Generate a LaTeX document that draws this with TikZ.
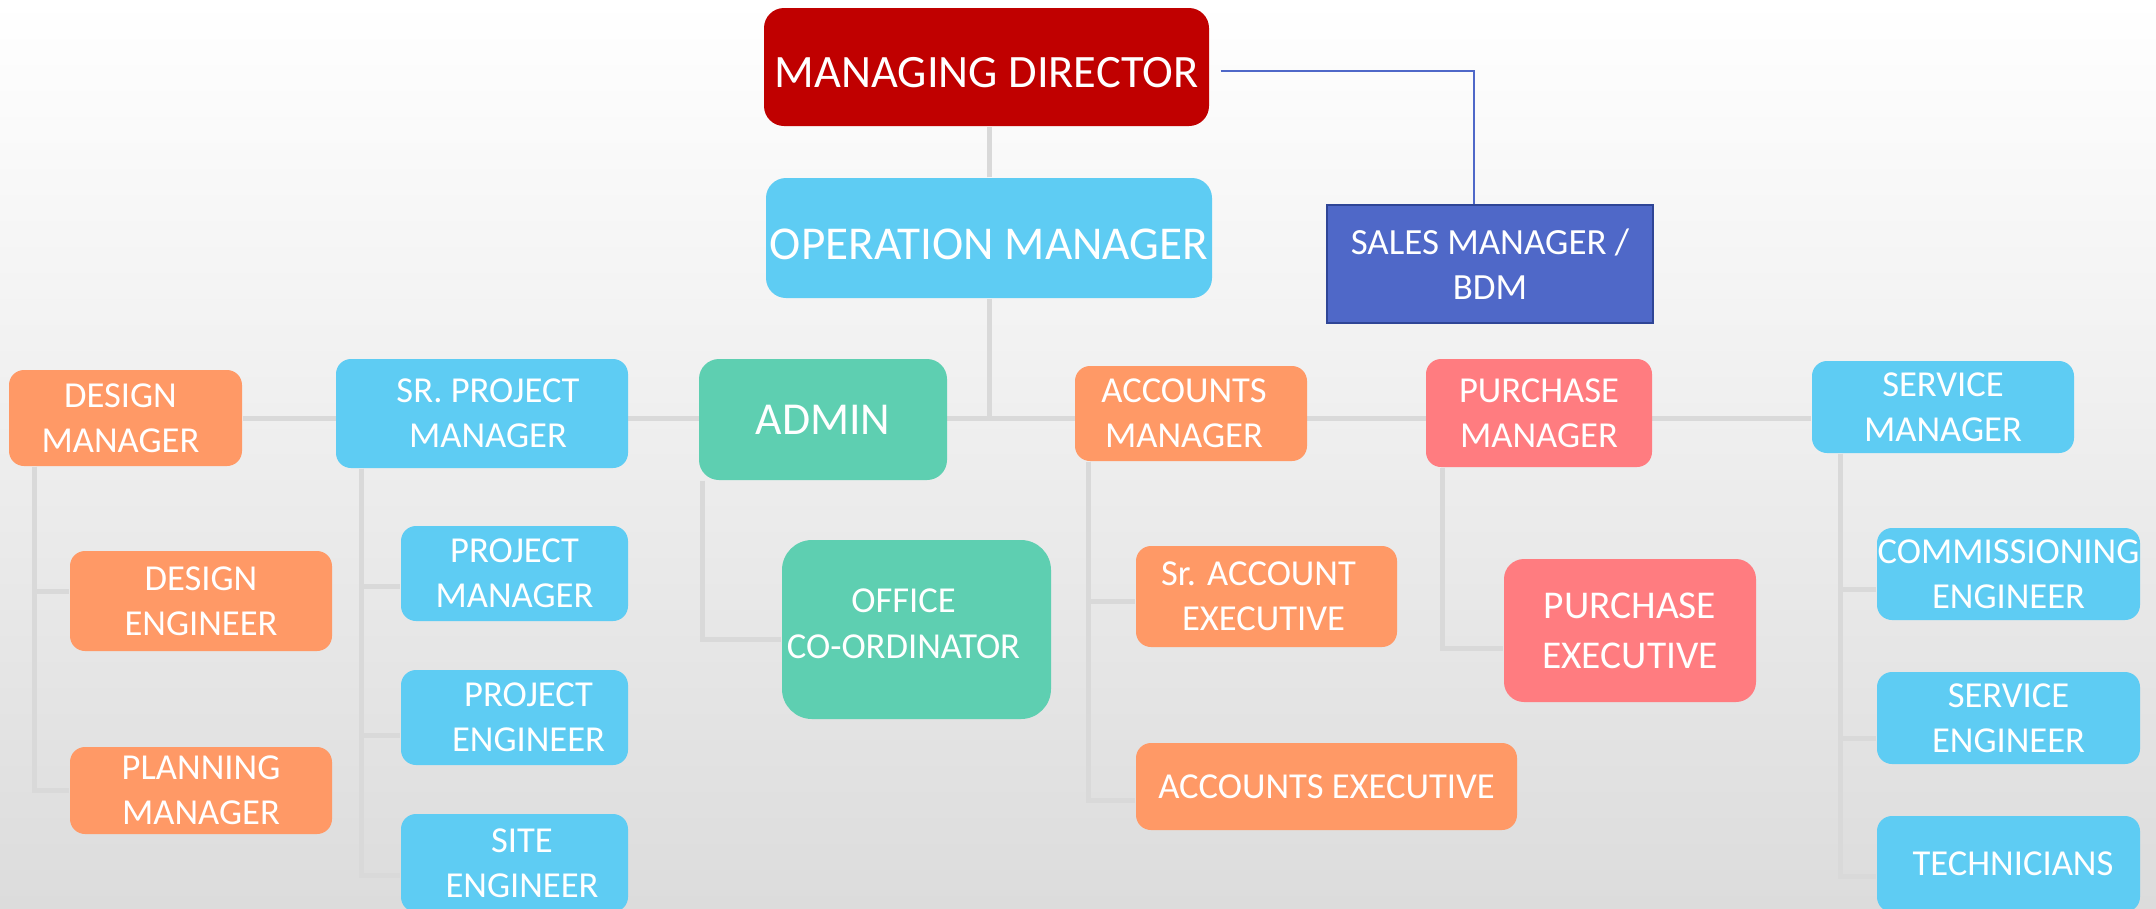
\documentclass[tikz,border=0pt]{standalone}
\usepackage{fontspec}
\setmainfont{Carlito}
\usetikzlibrary{positioning, calc}

\definecolor{mdred}{RGB}{192,0,0}
\definecolor{skyblue}{RGB}{94,204,243}
\definecolor{peach}{RGB}{255,153,102}
\definecolor{salmon}{RGB}{255,124,128}
\definecolor{mint}{RGB}{94,207,177}
\definecolor{salesfill}{RGB}{79,104,200}
\definecolor{salesedge}{RGB}{47,69,150}
\definecolor{wiregray}{RGB}{217,217,217}
\definecolor{bggray}{RGB}{220,220,220}

\pgfdeclarelayer{bg}
\pgfdeclarelayer{wires}
\pgfsetlayers{bg,wires,main}

\tikzset{
  boxsize/.style 2 args={minimum width=#1*0.01cm, minimum height=#2*0.01cm},
  post/.style={rounded corners=0.15cm, text=white, align=center, inner sep=0pt, font=\fontsize{10.4}{12.8}\selectfont},
  bigpost/.style={post, rounded corners=0.2cm, font=\fontsize{13.2}{16}\selectfont},
  wire/.style={draw=wiregray, line width=0.05cm},
  salesline/.style={draw=salesfill, line width=0.02cm}
}

\begin{document}
\begin{tikzpicture}[x=0.01cm, y=-0.01cm]
\useasboundingbox (0,0) rectangle (2156,908);

\node[bigpost, fill=mdred, text height=11.9pt, text depth=0pt, boxsize={445}{118}](md) at (986.5,67) {MANAGING DIRECTOR};
\node[bigpost, fill=skyblue, font=\fontsize{13.4}{16}\selectfont, text height=12pt, text depth=0pt, boxsize={446}{120}](om) at (989,238) {OPERATION MANAGER};
\node[post, rounded corners=0pt, fill=salesfill, draw=salesedge, line width=0.025cm, font=\fontsize{10.5}{12.8}\selectfont, boxsize={326}{118}](sales) at (1490,264) {SALES MANAGER /\\BDM};

\node[post, fill=peach, boxsize={233}{96}](dsgm) at (125.5,418) {DESIGN\hspace*{0.1cm}\\MANAGER\hspace*{0.1cm}};
\node[post, fill=skyblue, boxsize={292}{109}](spm) at (482,413.5) {\hspace*{0.12cm}SR. PROJECT\\\hspace*{0.12cm}MANAGER};
\node[bigpost, fill=mint, font=\fontsize{13}{16}\selectfont, boxsize={248}{121}](admin) at (823,419.5) {ADMIN};
\node[post, fill=peach, boxsize={232}{95}](accm) at (1191,413.5) {ACCOUNTS\hspace*{0.14cm}\\MANAGER\hspace*{0.14cm}};
\node[post, fill=salmon, boxsize={226}{108}](purm) at (1539,413) {PURCHASE\\MANAGER};
\node[post, fill=skyblue, boxsize={262}{92}](srvm) at (1943,407) {SERVICE\\MANAGER};

\node[post, fill=peach, boxsize={262}{100}](dsge) at (201,601) {DESIGN\\ENGINEER};
\node[post, fill=peach, boxsize={262}{87}](plnm) at (201,790.5) {PLANNING\\MANAGER};

\node[post, fill=skyblue, boxsize={227}{95}](prjm) at (514.5,573.5) {PROJECT\\MANAGER};
\node[post, fill=skyblue, boxsize={227}{95}](prje) at (514.5,717.5) {\hspace*{0.28cm}PROJECT\\\hspace*{0.28cm}ENGINEER};
\node[post, fill=skyblue, boxsize={227}{98}](site) at (514.5,863) {\hspace*{0.15cm}SITE\\\hspace*{0.15cm}ENGINEER};

\node[post, rounded corners=0.3cm, fill=mint, font=\fontsize{10.4}{13.3}\selectfont, text depth=3.4pt, boxsize={269}{179}](offc) at (916.5,629.5) {OFFICE\hspace*{0.26cm}\\CO-ORDINATOR\hspace*{0.26cm}};

\node[post, fill=peach, boxsize={261}{101}](srac) at (1266.5,596.5) {Sr. ACCOUNT\hspace*{0.16cm}\\EXECUTIVE\hspace*{0.06cm}};
\node[post, fill=peach, boxsize={381}{87}](acce) at (1326.5,786.5) {ACCOUNTS EXECUTIVE};

\node[post, rounded corners=0.2cm, fill=salmon, font=\fontsize{11.2}{14.2}\selectfont, boxsize={252}{143}](pure) at (1630,630.5) {PURCHASE\\EXECUTIVE};

\node[post, fill=skyblue, boxsize={263}{92}](comm) at (2008.5,574) {COMMISSIONING\\ENGINEER};
\node[post, fill=skyblue, boxsize={263}{92}](srve) at (2008.5,718) {SERVICE\\ENGINEER};
\node[post, fill=skyblue, boxsize={263}{96}](tech) at (2008.5,864) {\hspace*{0.09cm}TECHNICIANS};

\begin{pgfonlayer}{bg}
\shade[top color=white, bottom color=bggray] (0,0) rectangle (2156,908);
\end{pgfonlayer}

\begin{pgfonlayer}{wires}
\draw[wire] (om.north) -- (om.north |- md.south);
\draw[wire] (om.south) -- (om.south |- dsgm.east);
\draw[wire] (dsgm.east) -- (dsgm.east -| srvm.west);

\draw[wire] ($(dsgm.south west)+(26,0)$) |- ($(dsge.west)+(0,-10)$);
\draw[wire] ($(dsgm.south west)+(26,0)$) |- (plnm.west);

\draw[wire] ($(spm.south west)+(26,0)$) |- ($(prjm.west)+(0,13)$);
\draw[wire] ($(spm.south west)+(26,0)$) |- ($(prje.west)+(0,18)$);
\draw[wire] ($(spm.south west)+(26,0)$) |- ($(site.west)+(0,12)$);

\draw[wire] ($(admin.south west)+(4,0)$) |- ($(offc.west)+(0,10)$);

\draw[wire] ($(accm.south west)+(14,0)$) |- ($(srac.west)+(0,5)$);
\draw[wire] ($(accm.south west)+(14,0)$) |- ($(acce.west)+(0,14)$);

\draw[wire] ($(purm.south west)+(17,0)$) |- ($(pure.west)+(0,18)$);

\draw[wire] ($(srvm.south west)+(29,0)$) |- ($(comm.west)+(0,15)$);
\draw[wire] ($(srvm.south west)+(29,0)$) |- ($(srve.west)+(0,20)$);
\draw[wire] ($(srvm.south west)+(29,0)$) |- ($(tech.west)+(0,12)$);
\end{pgfonlayer}

\draw[salesline] ($(md.east)+(11,4)$) -| ($(sales.north)+(-16,0)$);
\end{tikzpicture}
\end{document}
